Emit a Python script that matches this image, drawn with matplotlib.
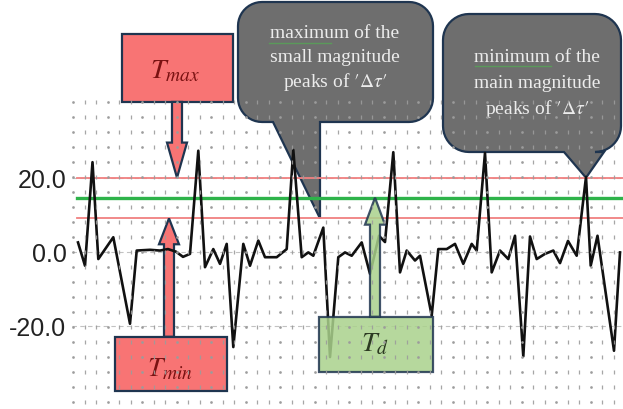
import matplotlib
matplotlib.use("Agg")
import matplotlib.pyplot as plt
import numpy as np
from matplotlib.patches import Rectangle, FancyArrow, Polygon

plt.rcParams["mathtext.fontset"] = "stix"

# signal trace (sample position, value)
t = [0, 7, 14.5, 20.3, 35.3, 52, 58.7, 72, 82, 90,
     98, 105, 112, 120.3, 127, 135.3, 142, 148.7, 155.3, 165.3,
     172, 180.3, 187, 198.7, 208.7, 215.3, 223.7, 230.3, 235.3, 245.3,
     252, 260.3, 267, 273.7, 283.7, 292, 301, 307, 315.3, 322,
     328.7, 337, 342, 353.7, 360.3, 368.7, 377, 385.3, 393.7, 398.7,
     407, 413.7, 422, 430.3, 437, 445.3, 452, 458.7, 467, 475.3,
     482, 490, 498.7, 508, 512.7, 519.5, 536, 542]
v = [2.5, -3.8, 24.2, -2.0, 3.9, -19.5, 0.3, 0.5, 0.3, 0.7,
     0.0, -1.4, -0.6, 27.3, -4.2, 0.7, -3.3, 2.1, -25.8, 2.1,
     -3.8, 3.0, -1.5, -1.5, 0.7, 27.5, -1.5, -0.2, -1.1, 6.5,
     -28.5, -1.5, -0.2, -1.1, 2.5, -6.0, 4.3, 2.6, 26.9, -5.6,
     0.3, -2.4, -1.1, -17.3, 0.7, 0.7, 2.1, -3.3, 2.1, 0.3,
     26.7, -5.6, 0.3, -2.0, 4.3, -28.3, 4.1, -2.0, -0.6, 0.3,
     -3.1, 2.9, -1.1, 20.2, -3.8, 4.3, -26.8, -0.2]

T_MAX = 20.0
T_D = 14.6
T_MIN = 9.0
yticks = [20.0, 0.0, -20.0]

bubble1_lines = ["maximum of the", "small magnitude", r"peaks of $\prime\Delta\tau\prime$"]
bubble2_lines = ["minimum of the", "main magnitude", r"peaks of $\prime\Delta\tau\prime$"]

W, H = 623, 410
NAVY = "#1f3550"
RED_FILL = "#f87474"
GREEN_FILL = "#aad28c"
BUBBLE = "#6e6e6e"

fig = plt.figure(figsize=(W / 100, H / 100), dpi=100)

# overlay in pixel coords for the speech bubbles (drawn below the chart)
ov = fig.add_axes([0, 0, 1, 1], zorder=0)
ov.set_xlim(0, W)
ov.set_ylim(H, 0)
ov.axis("off")

ax = fig.add_axes([72 / W, 5 / H, 551 / W, 308 / H], zorder=1)
ax.patch.set_visible(False)
ax.set_xlim(-6, 545)
ax.set_ylim(-41.2, 42.1)
for s in ax.spines.values():
    s.set_visible(False)
ax.set_xticks([])
ax.set_yticks(yticks)
ax.set_yticklabels([f"{y:.1f}" for y in yticks], fontsize=18, family="Liberation Sans", color="#222222")
ax.tick_params(axis="y", length=0, pad=4)


def to_px(x, y):
    dx, dy = ax.transData.transform((x, y))
    return dx, H - dy


def bubble(x0, y0, x1, y1, r, xa, tip, xb):
    pts = []
    def arc(cx, cy, a0, a1):
        for a in np.linspace(np.radians(a0), np.radians(a1), 12):
            pts.append((cx + r * np.cos(a), cy + r * np.sin(a)))
    arc(x1 - r, y0 + r, -90, 0)
    arc(x1 - r, y1 - r, 0, 90)
    pts += [(xb, y1), tip, (xa, y1)]
    arc(x0 + r, y1 - r, 90, 180)
    arc(x0 + r, y0 + r, 180, 270)
    ov.add_patch(Polygon(pts, closed=True, facecolor=BUBBLE, edgecolor=NAVY, lw=1.6, zorder=2))


tip1 = to_px(242, T_MIN)
bubble(238, 3, 433, 123, 24, tip1[0] - 47, tip1, tip1[0])
tip2 = to_px(508, T_MAX)
bubble(443, 15, 621, 153, 26, tip2[0] - 22, tip2, tip2[0] + 18)

for txt, yy in zip(bubble1_lines, [34, 58, 82]):
    ov.text(335, yy, txt, ha="center", va="center", fontsize=14, family="Liberation Serif",
            color="#ececec", zorder=3)
for txt, yy in zip(bubble2_lines, [58, 84, 109]):
    ov.text(537, yy, txt, ha="center", va="center", fontsize=14, family="Liberation Serif",
            color="#ececec", zorder=3)
ov.plot([269, 331], [43.5, 43.5], color="#5a9a5a", lw=1.0, zorder=4)
ov.plot([475, 551], [67, 67], color="#5a9a5a", lw=1.0, zorder=4)

# dotted background grid
cols = np.arange(-5, 546, 11.5)
rows = np.arange(-10, 11) * 15 / 3.7
gx, gy = np.meshgrid(cols, rows)
bar_mask = (np.arange(len(cols)) % 3 != 0)[None, :].repeat(len(rows), axis=0)
ax.plot(gx[bar_mask], gy[bar_mask], ls="none", marker="|", ms=3.5, mew=0.9, color="#9c9c9c", zorder=6, alpha=0.9)
ax.plot(gx[~bar_mask], gy[~bar_mask], ls="none", marker=".", ms=2, color="#9c9c9c", zorder=6, alpha=0.9)
for y in yticks:
    ax.axhline(y, color="#9a9a9a", lw=0.8, ls=(0, (4, 3)), alpha=0.6, zorder=1)

# threshold lines
ax.plot([-1, 545], [T_MAX, T_MAX], color="#f08080", lw=1.3, zorder=2)
ax.plot([-1, 545], [T_MIN, T_MIN], color="#f08080", lw=1.3, zorder=2)
ax.plot([-1, 545], [T_D, T_D], color="#2eb34a", lw=2.4, zorder=2)

# signal
ax.plot(t, v, color="#111111", lw=1.9, zorder=3)

# T_max box and arrow
ax.add_patch(Rectangle((44, 40.5), 111, 18.3, facecolor=RED_FILL, edgecolor=NAVY, lw=1.6, zorder=2, clip_on=False))
ax.add_patch(FancyArrow(99, 40.5, 0, T_MAX - 40.5, width=10, head_width=20, head_length=9.5,
                        length_includes_head=True, facecolor=RED_FILL, edgecolor=NAVY, lw=1.6, zorder=2))
ax.text(97, 49.4, r"$T_{max}$", ha="center", va="center", fontsize=20, color="#7a1212", zorder=4, clip_on=False)

# T_min box and arrow
ax.add_patch(Rectangle((37, -37.7), 112, 14.7, facecolor=RED_FILL, edgecolor=NAVY, lw=1.6, zorder=2))
ax.add_patch(FancyArrow(91, -23.0, 0, T_MIN + 23.0, width=10, head_width=20, head_length=7,
                        length_includes_head=True, facecolor=RED_FILL, edgecolor=NAVY, lw=1.6, zorder=2))
ax.text(92, -31.2, r"$T_{min}$", ha="center", va="center", fontsize=20, color="#7a1212", zorder=4)

# T_d box and arrow
ax.add_patch(Rectangle((241, -32.5), 114, 14.9, facecolor=GREEN_FILL, edgecolor=NAVY, lw=1.6, zorder=4, alpha=0.85))
ax.add_patch(FancyArrow(297, -17.6, 0, T_D + 17.6, width=10, head_width=20, head_length=7.3,
                        length_includes_head=True, facecolor=GREEN_FILL, edgecolor=NAVY, lw=1.6, zorder=4, alpha=0.85))
ax.text(297, -24.5, r"$T_{d}$", ha="center", va="center", fontsize=20, color="#2c3a22", zorder=5)

fig.savefig("out.png", dpi=100)
